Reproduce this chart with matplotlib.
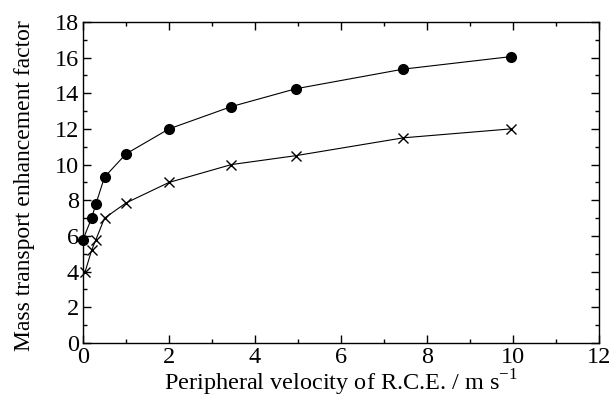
import matplotlib
matplotlib.use('Agg')
import matplotlib.pyplot as plt
from matplotlib.ticker import MultipleLocator

# peripheral velocity (m/s) and enhancement factor
x_dots = [0.0, 0.2, 0.3, 0.5, 1.0, 2.0, 3.45, 4.95, 7.45, 9.95]
y_dots = [5.8, 7.0, 7.8, 9.3, 10.6, 12.0, 13.25, 14.25, 15.35, 16.05]

x_cross = [0.05, 0.2, 0.3, 0.5, 1.0, 2.0, 3.45, 4.95, 7.45, 9.95]
y_cross = [4.0, 5.2, 5.8, 7.0, 7.85, 9.0, 10.0, 10.5, 11.5, 12.0]

plt.rcParams['font.family'] = 'Liberation Serif'

fig = plt.figure(figsize=(6.15, 3.97), dpi=100)
ax = fig.add_axes([0.135, 0.136, 0.839, 0.809])

ax.plot(x_dots, y_dots, '-', color='k', lw=0.8, marker='o', ms=7, clip_on=False, zorder=3)
ax.plot(x_cross, y_cross, '-', color='k', lw=0.8, marker='x', ms=7, mew=1.0, clip_on=False, zorder=3)

ax.set_xlim(0, 12)
ax.set_ylim(0, 18)
ax.xaxis.set_major_locator(MultipleLocator(2))
ax.xaxis.set_minor_locator(MultipleLocator(1))
ax.yaxis.set_major_locator(MultipleLocator(2))
ax.yaxis.set_minor_locator(MultipleLocator(1))
ax.tick_params(which='both', direction='in', top=True, right=True, labelsize=17.5, width=1.0, pad=3)
ax.tick_params(which='major', length=6)
ax.tick_params(which='minor', length=3)
for s in ax.spines.values():
    s.set_linewidth(1.0)

ax.set_xlabel('Peripheral velocity of R.C.E. / m s$^{\\mathregular{-1}}$', fontsize=17.5, labelpad=0)
ax.set_ylabel('Mass transport enhancement factor', fontsize=17, labelpad=14)
ax.xaxis.label.set_x(0.5)
ax.yaxis.label.set_y(0.49)

fig.savefig('out.png', dpi=100)
